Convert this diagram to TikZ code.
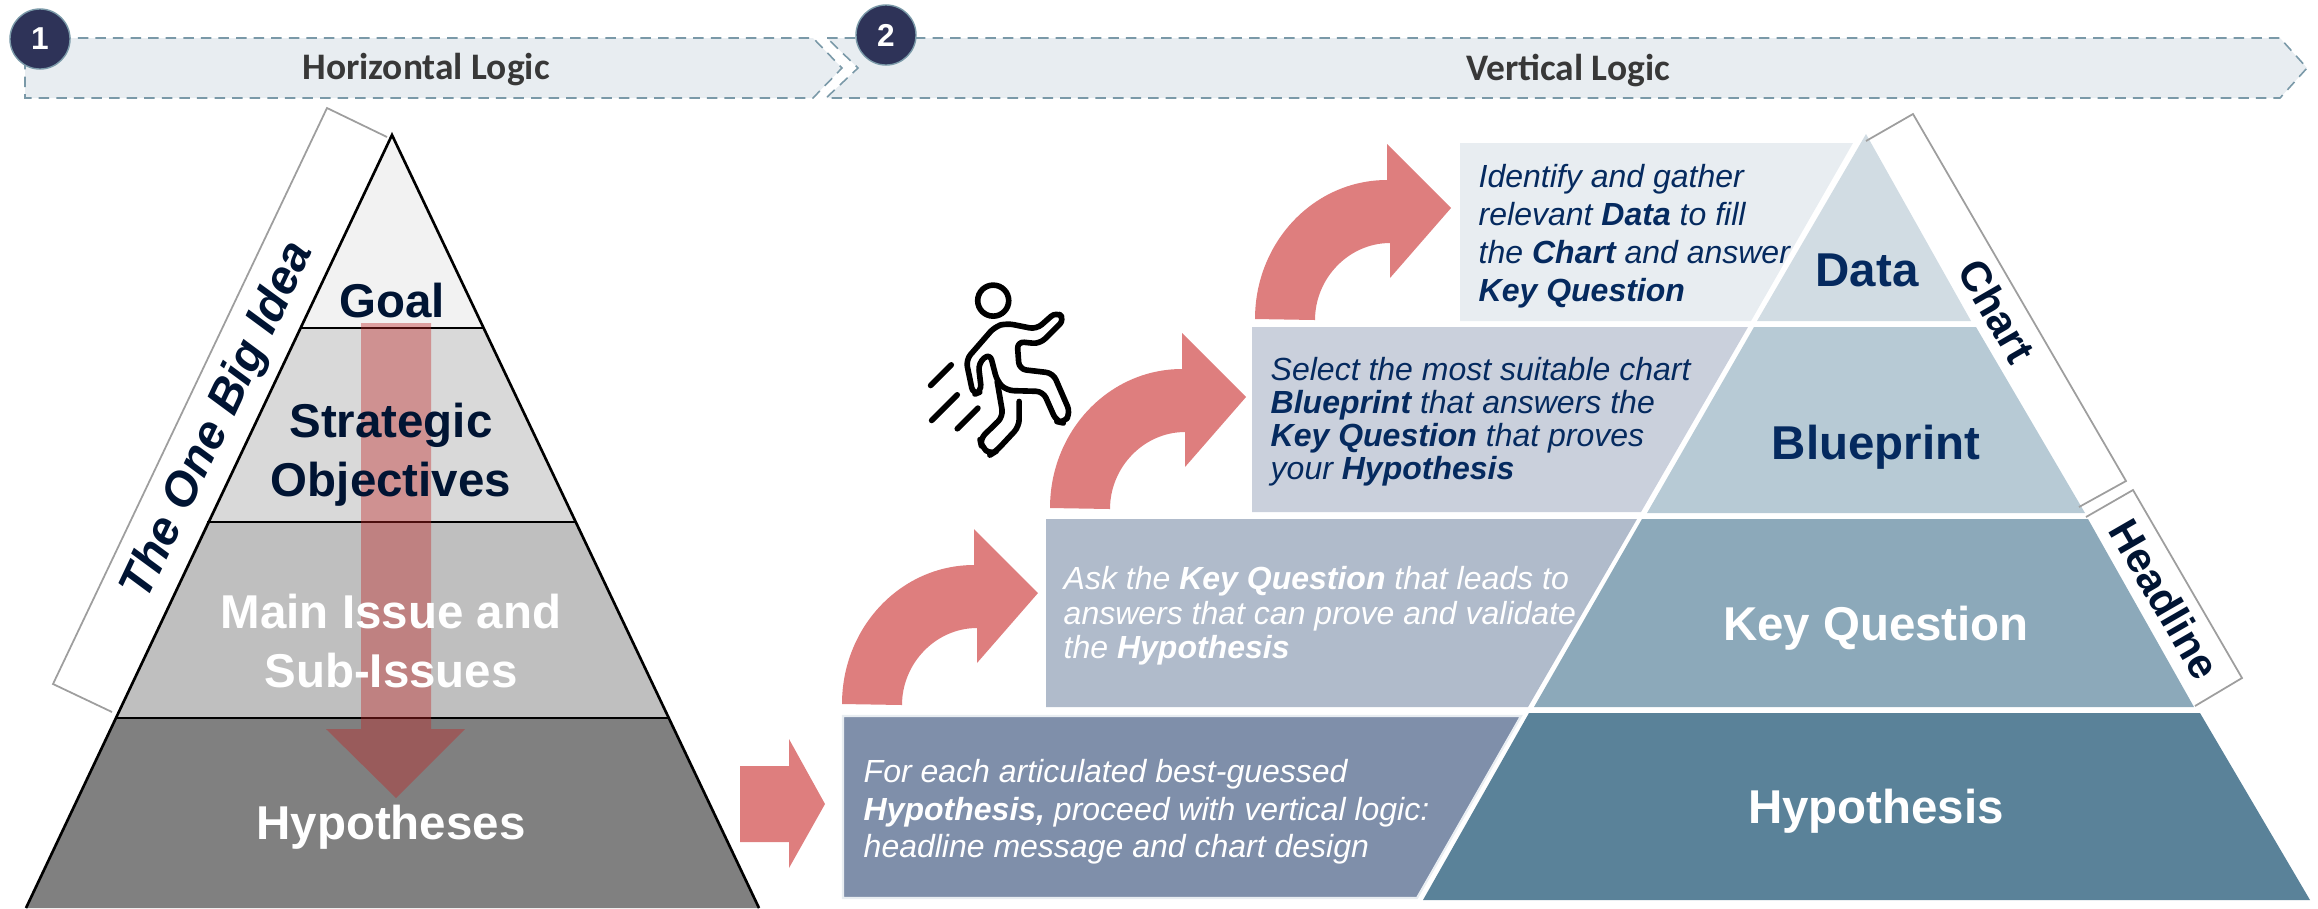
\documentclass[tikz,border=0pt]{standalone}
\usepackage{fontspec}
\setmainfont{Liberation Sans}
\newfontfamily\bannerfont{Carlito}
\definecolor{inkblue}{HTML}{001433}
\definecolor{deepblue}{HTML}{052A5F}
\definecolor{bannerfill}{HTML}{E8EDF1}
\definecolor{bannerline}{HTML}{7A99A8}
\definecolor{badgefill}{HTML}{2E3358}
\definecolor{arrowred}{HTML}{DE7E7E}
\definecolor{shaftred}{HTML}{C02525}
\definecolor{blueprintpanel}{HTML}{CAD0DC}
\definecolor{questionpanel}{HTML}{B0BBCB}
\definecolor{hypothesispanel}{HTML}{7F8FAA}
\definecolor{datatier}{HTML}{D1DCE3}
\definecolor{blueprinttier}{HTML}{B7CAD5}
\definecolor{questiontier}{HTML}{8CA9BA}
\definecolor{hypothesistier}{HTML}{5A8299}
\tikzset{
  bannerbox/.style={fill=bannerfill, draw=bannerline, line width=0.45pt, dash pattern=on 3pt off 2pt},
  bannertext/.style={text=black!78, font=\bannerfont\fontsize{10.65}{12}\selectfont\bfseries},
  badge/.style={circle, fill=badgefill, draw=bannerline, line width=0.4pt, minimum size=0.6cm, inner sep=0pt, text=white, font=\fontsize{9}{10}\selectfont\bfseries},
  pyrline/.style={draw=black, line width=0.75pt},
  pyrlabel/.style={align=center, text=inkblue, font=\fontsize{13.5}{16.7}\selectfont\bfseries},
  sidelabel/.style={text=inkblue, font=\fontsize{12}{14}\selectfont\bfseries},
  bracket/.style={draw=black!38, line width=0.5pt},
  panelnote/.style={anchor=west, align=left, inner sep=0pt, text=deepblue},
  runner/.style={draw=black, line width=1.6pt, line cap=round, line join=round, rounded corners=2pt}
}
\begin{document}
\begin{tikzpicture}[x=0.01cm, y=-0.01cm]
        \useasboundingbox (0,0) rectangle (2318,908);
        \draw [bannerbox] (25,38) -- (813,38) -- (842,68) -- (813,98) -- (25,98) -- cycle;
        \draw [bannerbox] (827,38) -- (2280,38) -- (2307,68) -- (2280,98) -- (826,98) -- (858,68) -- cycle;
        \node (horizontal) [bannertext] at (426,70) {Horizontal Logic};
        \node (vertical) [bannertext] at (1568,70) {Vertical Logic};
        \node (one) [badge] at (40,39) {1};
        \node (two) [badge] at (886,35) {2};
        \fill [black!5] (392,135) -- (484,328) -- (300,328) -- cycle;
        \fill [black!15] (300,328) -- (484,328) -- (577,522) -- (207,522) -- cycle;
        \fill [black!25] (207,522) -- (577,522) -- (669,718) -- (115,718) -- cycle;
        \fill [black!50] (115,718) -- (669,718) -- (759,908) -- (26,908) -- cycle;
        \draw [pyrline] (26,908) -- (392,135) -- (759,908);
        \draw [pyrline] (300,328) -- (484,328);
        \draw [pyrline] (207,522) -- (577,522);
        \draw [pyrline] (115,718) -- (669,718);
        \fill [shaftred, opacity=0.4] (361,323) -- (431,323) -- (431,729) -- (465,729) -- (396,798) -- (326,729) -- (361,729) -- cycle;
        \node (goal) [pyrlabel] at (392,301) {Goal};
        \node (strategic) [pyrlabel] at (391,455) {Strategic\\Objectives};
        \node (issues) [pyrlabel, text=white] at (391,641) {Main Issue and\\Sub-Issues};
        \node (hypotheses) [pyrlabel, text=white] at (391,827) {Hypotheses};
        \draw [bracket] (387,137) -- (327,108) -- (53,684) -- (112,712);
        \node (idea) [sidelabel, rotate=64.6, font=\fontsize{13.5}{16}\selectfont\bfseries\itshape] at (219,421) {The One Big Idea};
        \fill [arrowred] (740,766) -- (789,766) -- (789,739) -- (825,804) -- (789,868) -- (789,842) -- (740,842) -- cycle;
        \fill [bannerfill] (1460,143) -- (1853,143) -- (1751,321) -- (1460,321) -- cycle;
        \fill [blueprintpanel] (1252,327) -- (1748,327) -- (1641,512) -- (1252,512) -- cycle;
        \fill [questionpanel] (1046,519) -- (1637,519) -- (1528,707) -- (1046,707) -- cycle;
        \draw [fill=hypothesispanel, draw=bannerfill, line width=0.6pt] (843,716) -- (1521,716) -- (1417,898) -- (843,898) -- cycle;
        \fill [datatier] (1866,134) -- (1971,321) -- (1757,321) -- cycle;
        \fill [blueprinttier] (1754,327) -- (1976,327) -- (2085,513) -- (1647,513) -- cycle;
        \fill [questiontier] (1642,519) -- (2088,519) -- (2194,707) -- (1534,707) -- cycle;
        \fill [hypothesistier] (1529,713) -- (2200,713) -- (2310,900) -- (1423,900) -- cycle;
        \foreach \dx/\dy in {0/0, -205/189, -413/385} {
          \fill [arrowred, shift={(\dx,\dy)}] (1255,319) .. controls (1255,242) and (1314,180) .. (1387,180) -- (1387,144) -- (1451,208) -- (1390,278) -- (1390,243) .. controls (1349,243) and (1315,278) .. (1315,320) -- cycle;
        }
        \node (datanote) [panelnote, font=\fontsize{9.1}{10.8}\selectfont\itshape] at (1478,236) {Identify and gather\\relevant \textbf{Data} to fill\\the \textbf{Chart} and answer\\\textbf{Key Question}};
        \node (blueprintnote) [panelnote, font=\fontsize{9.1}{9.4}\selectfont\itshape] at (1270,422) {Select the most suitable chart\\\textbf{Blueprint} that answers the\\\textbf{Key Question} that proves\\your \textbf{Hypothesis}};
        \node (questionnote) [panelnote, text=white, font=\fontsize{9.1}{9.8}\selectfont\itshape] at (1063,616) {Ask the \textbf{Key Question} that leads to\\answers that can prove and validate\\the \textbf{Hypothesis}};
        \node (hypothesisnote) [panelnote, text=white, font=\fontsize{9.1}{10.7}\selectfont\itshape] at (863,812) {For each articulated best-guessed\\\textbf{Hypothesis,} proceed with vertical logic:\\headline message and chart design};
        \node (data) [pyrlabel, text=deepblue] at (1867,270) {Data};
        \node (blueprint) [pyrlabel, text=deepblue] at (1876,447) {Blueprint};
        \node (question) [pyrlabel, text=white] at (1876,628) {Key Question};
        \node (hypothesis) [pyrlabel, text=white] at (1876,811) {Hypothesis};
        \draw [bracket] (1866,141) -- (1913,114) -- (2126,481) -- (2079,507);
        \draw [bracket] (2086,517) -- (2133,490) -- (2242,678) -- (2195,706);
        \node (chart) [sidelabel, rotate=-60] at (1997,311) {Chart};
        \node (headline) [sidelabel, rotate=-60] at (2165,599) {Headline};
        \begin{scope}[shift={(910,270)}, x=0.003333cm, y=-0.003333cm]
          \draw [runner, rounded corners=0pt] (250,92) circle [radius=0.155cm];
          \draw [runner] (190,375) -- (168,270) -- (255,170) -- (290,160) -- (380,178) -- (440,125) -- (465,148) -- (390,222) -- (322,215) -- (328,298) -- (430,310) -- (482,430) -- (462,460) -- (440,455) -- (400,365) -- (290,362) -- (262,335) -- (240,250) -- (205,280) -- (215,365) -- cycle;
          \draw [runner] (262,335) -- (280,440) -- (210,508) -- (215,530) -- (242,555) -- (258,545) -- (328,470) -- (328,395);
          \draw [runner] (62,347) -- (124,285);
          \draw [runner] (65,452) -- (142,375);
          \draw [runner] (142,477) -- (204,415);
        \end{scope}
      \end{tikzpicture}
\end{document}
